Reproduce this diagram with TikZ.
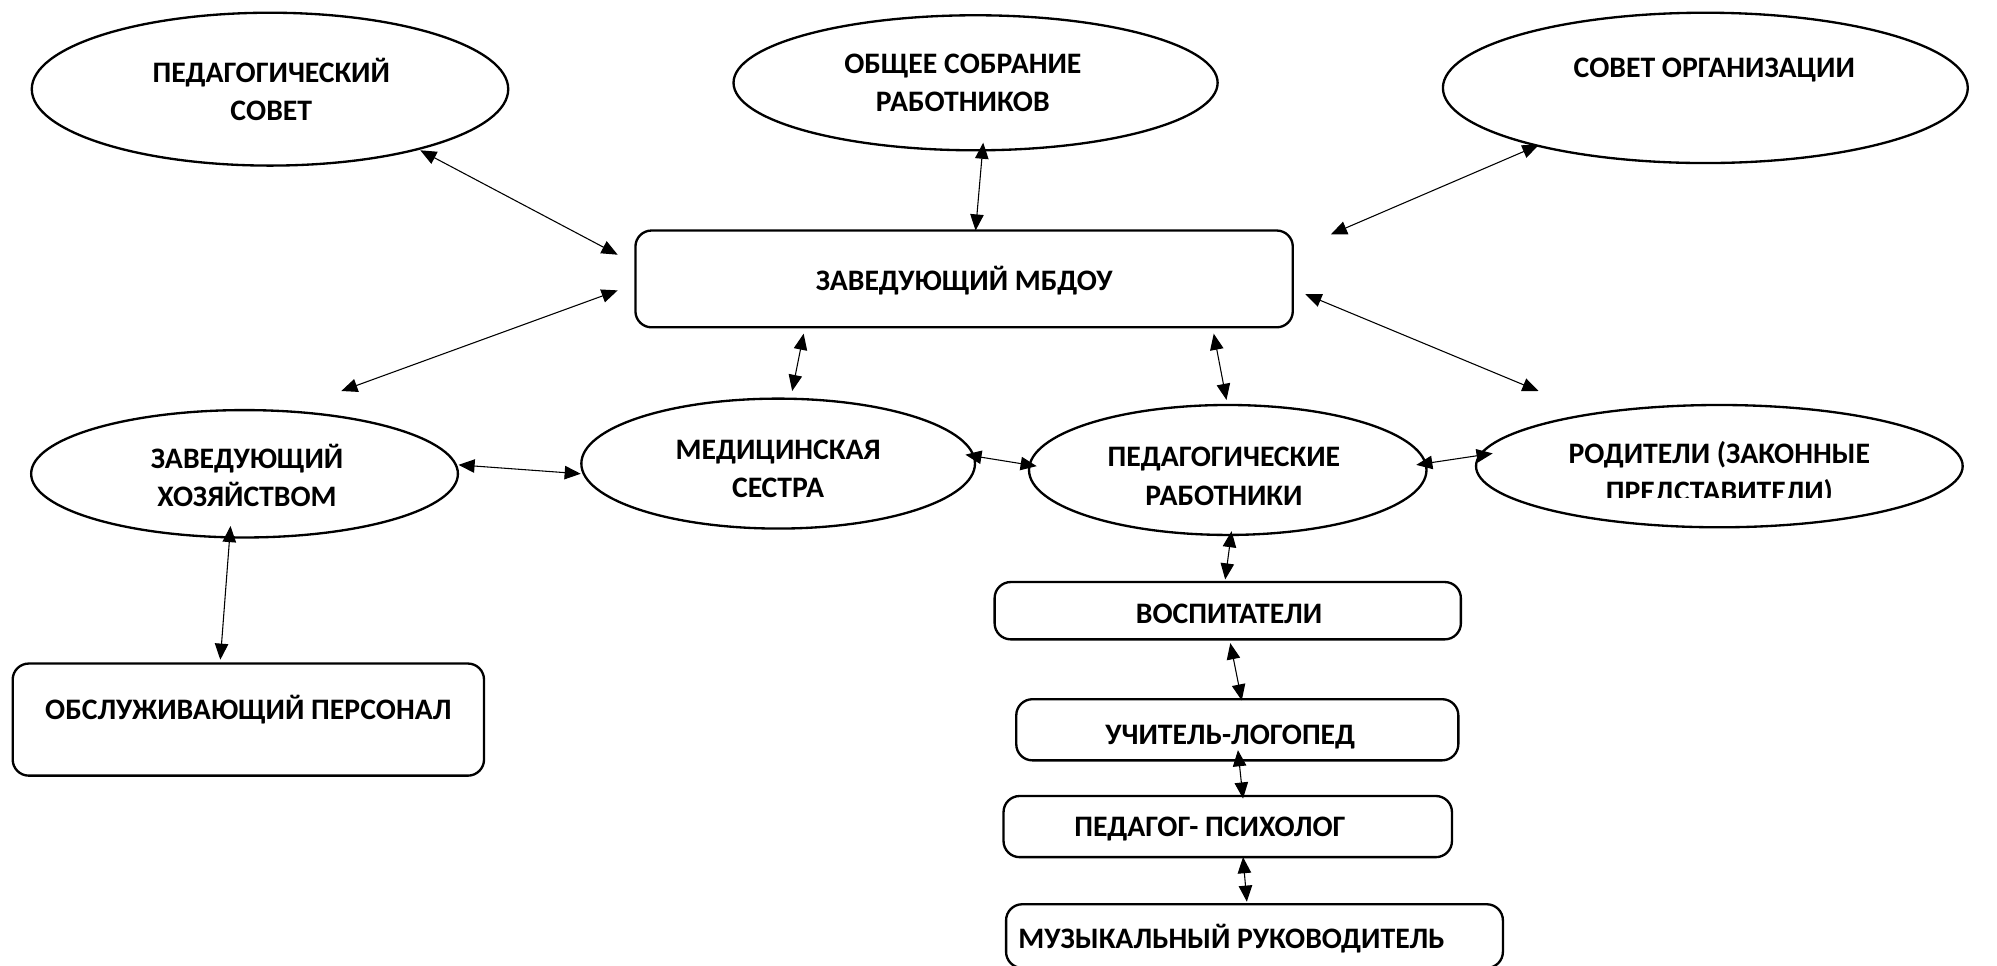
\documentclass[tikz,border=0pt]{standalone}
\usepackage{fontspec}
\setmainfont{Carlito}
\usetikzlibrary{shapes.geometric,arrows.meta}
\tikzset{
  ell/.style={draw, line width=1.3pt, ellipse, inner sep=0pt},
  rbox/.style={draw, line width=1.3pt, rounded corners=9pt, inner sep=0pt},
  txt/.style={font=\bfseries\fontsize{16.6}{21.3}\selectfont, align=center, inner sep=0pt},
  arr/.style={line width=0.6pt, {Triangle[length=9pt,width=7.5pt]}-{Triangle[length=9pt,width=7.5pt]}}
}
\begin{document}
\begin{tikzpicture}[x=0.025cm,y=-0.025cm]
\useasboundingbox (0,0) rectangle (1568,758);
% shapes
\node[ell, minimum width=9.35cm, minimum height=3.0cm] (ps) at (212,70) {};
\node[ell, minimum width=9.5cm, minimum height=2.65cm] (os) at (766,65) {};
\node[ell, minimum width=10.3cm, minimum height=2.95cm] (so) at (1339,69) {};
\node[rbox, minimum width=12.9cm, minimum height=1.9cm] (zav) at (757,219) {};
\node[ell, minimum width=8.375cm, minimum height=2.5cm] (zh) at (192,372) {};
\node[ell, minimum width=7.725cm, minimum height=2.55cm] (ms) at (611,364) {};
\node[ell, minimum width=7.8cm, minimum height=2.55cm] (pr) at (964,369) {};
\node[ell, minimum width=9.55cm, minimum height=2.4cm] (rod) at (1350,366) {};
\node[rbox, minimum width=9.25cm, minimum height=2.2cm] (obs) at (195,565) {};
\node[rbox, minimum width=9.15cm, minimum height=1.125cm] (vos) at (964,479.5) {};
\node[rbox, minimum width=8.675cm, minimum height=1.2cm] (uch) at (971.5,573) {};
\node[rbox, minimum width=8.8cm, minimum height=1.2cm] (pp) at (964,649) {};
\node[rbox, minimum width=9.75cm, minimum height=1.25cm] (muz) at (985,735) {};
% texts
\node[txt] (pst) at (213,70) {ПЕДАГОГИЧЕСКИЙ\\СОВЕТ};
\node[txt] (ost) at (756,65) {ОБЩЕЕ СОБРАНИЕ\\РАБОТНИКОВ};
\node[txt] (sot) at (1346,55) {СОВЕТ ОРГАНИЗАЦИИ};
\node[txt] (zavt) at (757,220) {ЗАВЕДУЮЩИЙ МБДОУ};
\node[txt] (zht) at (194,373) {ЗАВЕДУЮЩИЙ\\ХОЗЯЙСТВОМ};
\node[txt] (mst) at (611,368) {МЕДИЦИНСКАЯ\\СЕСТРА};
\node[txt] (prt) at (961,374) {ПЕДАГОГИЧЕСКИЕ\\РАБОТНИКИ};
\begin{scope}
\clip (1150,330) rectangle (1560,391);
\node[txt] (rodt) at (1350,372) {РОДИТЕЛИ (ЗАКОННЫЕ\\ПРЕДСТАВИТЕЛИ)};
\end{scope}
\node[txt] (obst) at (195,557) {ОБСЛУЖИВАЮЩИЙ ПЕРСОНАЛ};
\node[txt] (vost) at (965,482) {ВОСПИТАТЕЛИ};
\node[txt] (ucht) at (966,579) {УЧИТЕЛЬ-ЛОГОПЕД};
\node[txt] (ppt) at (950,651) {ПЕДАГОГ- ПСИХОЛОГ};
\node[txt] (muzt) at (967,737) {МУЗЫКАЛЬНЫЙ РУКОВОДИТЕЛЬ};
% connector end points
\coordinate (a1) at (330,118); \coordinate (a2) at (485,200);
\coordinate (b1) at (772,112); \coordinate (b2) at (766,181);
\coordinate (c1) at (1208,114); \coordinate (c2) at (1045,184);
\coordinate (d1) at (485,228); \coordinate (d2) at (268,307);
\coordinate (e1) at (1025,231); \coordinate (e2) at (1208,307);
\coordinate (f1) at (631,262); \coordinate (f2) at (622,307);
\coordinate (g1) at (953,262); \coordinate (g2) at (963,314);
\coordinate (h1) at (360,365); \coordinate (h2) at (456,372);
\coordinate (i1) at (758,357); \coordinate (i2) at (814,366);
\coordinate (j1) at (1112,365); \coordinate (j2) at (1172,356);
\coordinate (k1) at (181,413); \coordinate (k2) at (173,518);
\coordinate (l1) at (967,417); \coordinate (l2) at (962,455);
\coordinate (m1) at (966,505); \coordinate (m2) at (975,550);
\coordinate (n1) at (972,589); \coordinate (n2) at (976,627);
\coordinate (o1) at (976,673); \coordinate (o2) at (979,708);
% connectors
\foreach \p in {a,b,c,d,e,f,g,h,i,j,k,l,m,n,o}
  \draw[arr] (\p1) -- (\p2);
\end{tikzpicture}
\end{document}
